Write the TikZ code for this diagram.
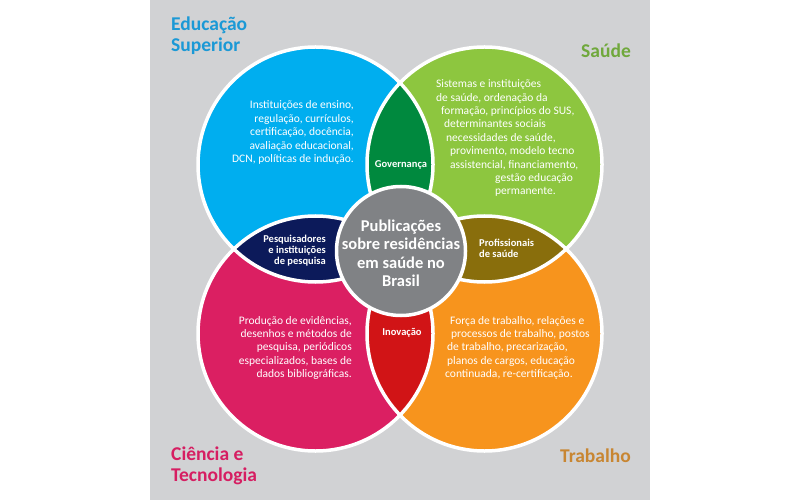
\documentclass[tikz,border=0pt]{standalone}
\usepackage{fontspec}
\setmainfont{Carlito}
\usepackage{xcolor}
\usepackage{tikz}
\usetikzlibrary{positioning}

\definecolor{bgGray}{RGB}{209,210,212}
\definecolor{eduBlue}{RGB}{0,174,239}
\definecolor{saudeGreen}{RGB}{141,198,63}
\definecolor{cienciaPink}{RGB}{219,31,98}
\definecolor{trabOrange}{RGB}{247,148,29}
\definecolor{govGreen}{RGB}{0,137,62}
\definecolor{pesqNavy}{RGB}{12,26,90}
\definecolor{profOlive}{RGB}{137,110,12}
\definecolor{inovRed}{RGB}{209,20,22}
\definecolor{pubGray}{RGB}{128,130,133}
\definecolor{eduTitle}{RGB}{27,153,214}
\definecolor{saudeTitle}{RGB}{112,168,60}
\definecolor{cienciaTitle}{RGB}{214,30,98}
\definecolor{trabTitle}{RGB}{200,134,50}

\begin{document}
\begin{tikzpicture}[x=1bp,y=-1bp,
        ring/.style={draw=white,line width=3.5bp},
        body/.style={text=white,inner sep=0pt,font=\fontsize{11.5bp}{13.4bp}\selectfont},
        lens/.style={text=white,inner sep=0pt,font=\fontsize{10.5bp}{11bp}\selectfont\bfseries},
        title/.style={inner sep=0pt,align=left,font=\fontsize{19.5bp}{21bp}\selectfont\bfseries}]
        \def\rr{117.5bp}
        % Background
        \fill[white] (0,0) rectangle (800,500);
        \useasboundingbox (0,0) rectangle (800,500);
        \fill[bgGray] (150,0) rectangle (650,500);
        
        % Circle centres
        \coordinate (cEdu) at (315.5,164.5);
        \coordinate (cSaude) at (484.5,164.5);
        \coordinate (cCiencia) at (315.5,333.5);
        \coordinate (cTrab) at (484.5,333.5);
        \coordinate (cPub) at (401,251);
        
        % Four circles
        \foreach \c/\col in {cEdu/eduBlue, cSaude/saudeGreen, cCiencia/cienciaPink, cTrab/trabOrange}
            \fill[\col] (\c) circle[radius=\rr];
        
        % Overlaps
        \foreach \a/\b/\col in {cEdu/cSaude/govGreen, cEdu/cCiencia/pesqNavy, cSaude/cTrab/profOlive, cCiencia/cTrab/inovRed}{
            \begin{scope}
                \clip (\a) circle[radius=\rr];
                \fill[\col] (\b) circle[radius=\rr];
            \end{scope}
        }
        \foreach \c in {cEdu, cSaude, cCiencia, cTrab}
            \draw[ring] (\c) circle[radius=\rr];
        
        % Centre
        \draw[ring, fill=pubGray] (cPub) circle[radius=64.5bp];
        \node[text=white, inner sep=0pt, align=center, anchor=base,
            font=\fontsize{16.5bp}{18.3bp}\selectfont\bfseries] (pub) at (401,286.5)
            {Publicações\\sobre residências\\em saúde no\\Brasil};
        
        % Circle texts (base = last line)
        \node[body, align=right, anchor=base east] (eduText) at (354,162.6)
            {Instituições de ensino,\\regulação, currículos,\\certificação, docência,\\avaliação educacional,\\DCN, políticas de indução.};
        \node[body, align=left, anchor=base west] (saudeText) at (436,195)
            {Sistemas e instituições\\de saúde, ordenação da\\\hspace*{5bp}formação, princípios do SUS,\\\hspace*{8bp}determinantes sociais\\\hspace*{10bp}necessidades de saúde,\\\hspace*{14bp}provimento, modelo tecno\\\hspace*{14bp}assistencial, financiamento,\\\hspace*{59bp}gestão educação\\\hspace*{59bp}permanente.};
        \node[body, align=right, anchor=base east] (cienciaText) at (352,377.6)
            {Produção de evidências,\\desenhos e métodos de\\pesquisa, periódicos\\especializados, bases de\\dados bibliográficas.};
        \node[body, align=left, anchor=base west] (trabText) at (445,377.6)
            {\hspace*{5bp}Força de trabalho, relações e\\\hspace*{6bp}processos de trabalho, postos\\\hspace*{2bp}de trabalho, precarização,\\\hspace*{2bp}planos de cargos, educação\\continuada, re-certificação.};
        
        % Overlap labels
        \node[lens, anchor=base] (gov) at (401,168) {Governança};
        \node[lens, align=right, anchor=base east] (pesq) at (326,265)
            {Pesquisadores\\e instituições\\de pesquisa};
        \node[lens, align=left, anchor=base west] (prof) at (479,258)
            {Profissionais\\de saúde};
        \node[lens, anchor=base] (inov) at (402,335) {Inovação};
        
        % Titles
        \node[title, text=eduTitle, anchor=base west] (edu) at (171,52) {Educação\\Superior};
        \node[title, text=saudeTitle, anchor=base east] (saude) at (631,58) {Saúde};
        \node[title, text=cienciaTitle, anchor=base west] (ciencia) at (171,481) {Ciência e\\Tecnologia};
        \node[title, text=trabTitle, anchor=base east] (trab) at (631,462) {Trabalho};
\end{tikzpicture}
\end{document}
